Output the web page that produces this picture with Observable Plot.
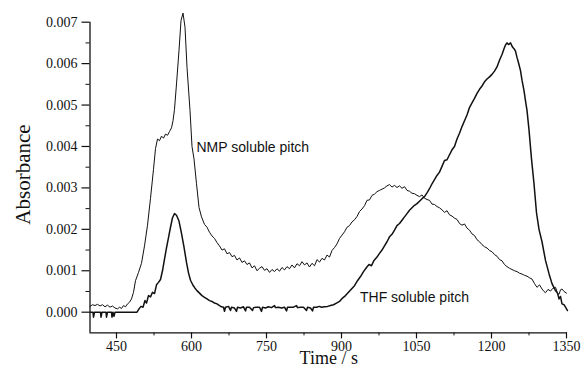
<!DOCTYPE html>
<html>
<head>
<meta charset="utf-8">
<script src="https://cdn.jsdelivr.net/npm/d3@7"></script>
<script src="https://cdn.jsdelivr.net/npm/@observablehq/plot@0.6"></script>
<style>
  html, body { margin: 0; padding: 0; background: #fff; }
</style>
</head>
<body>
<div id="chart"></div>
<script>
// Elution traces: [time (s), absorbance]
const nmpSoluble = [
  [397,.00014],[402,.00018],[407,.00016],[412,.00019],[417,.00015],[422,.00018],[427,.00013],[432,.00017],[437,.00012],[442,.00015],
  [447,.00010],[452,.00008],[456,.00012],[460,.00009],[464,.00016],[468,.00013],[472,.00020],[476,.00024],[480,.00032],[484,.00048],
  [488,.00076],[494,.00096],[500,.00118],[506,.00160],[512,.00210],[518,.00275],[524,.00345],[528,.00395],[532,.00418],[536,.00414],
  [540,.00425],[544,.00420],[548,.00430],[552,.00427],[556,.00436],[560,.00445],[563,.00462],[566,.00490],[570,.00551],[575,.00632],
  [579,.00704],[583,.00722],[587,.00688],[591,.00591],[597,.00487],[601,.00400],[605,.00370],[610,.00310],[615,.00253],[620,.00230],
  [626,.00212],[631,.00205],[636,.00193],[641,.00184],[646,.00178],[651,.00168],[656,.00160],[661,.00150],[666,.00153],[671,.00141],
  [676,.00144],[681,.00134],[686,.00137],[691,.00126],[696,.00131],[701,.00120],[706,.00124],[711,.00115],[716,.00119],[721,.00107],
  [726,.00112],[731,.00100],[736,.00106],[741,.00110],[746,.00101],[751,.00105],[756,.00096],[761,.00103],[766,.00098],[771,.00105],
  [776,.00099],[781,.00108],[786,.00102],[791,.00110],[796,.00105],[801,.00114],[806,.00107],[811,.00117],[816,.00112],[821,.00122],
  [826,.00114],[831,.00119],[836,.00109],[841,.00118],[846,.00112],[851,.00127],[856,.00121],[861,.00130],[866,.00126],[871,.00138],
  [876,.00133],[881,.00149],[886,.00156],[891,.00165],[896,.00178],[901,.00186],[906,.00194],[911,.00205],[916,.00209],[921,.00218],
  [926,.00223],[931,.00231],[936,.00243],[941,.00249],[946,.00257],[951,.00270],[956,.00271],[961,.00282],[966,.00285],[971,.00291],
  [976,.00294],[981,.00297],[986,.00300],[991,.00305],[996,.00308],[1001,.00302],[1006,.00306],[1011,.00301],[1016,.00305],[1021,.00299],
  [1026,.00303],[1031,.00294],[1036,.00292],[1041,.00287],[1046,.00286],[1051,.00282],[1056,.00279],[1061,.00283],[1066,.00275],[1071,.00272],
  [1076,.00270],[1081,.00261],[1086,.00260],[1091,.00255],[1096,.00252],[1101,.00247],[1106,.00241],[1111,.00245],[1116,.00235],[1121,.00232],
  [1126,.00227],[1131,.00224],[1136,.00214],[1141,.00210],[1146,.00213],[1151,.00203],[1156,.00198],[1161,.00189],[1166,.00185],[1171,.00175],
  [1176,.00170],[1181,.00163],[1186,.00158],[1191,.00155],[1196,.00149],[1201,.00146],[1206,.00139],[1211,.00135],[1216,.00127],[1221,.00124],
  [1226,.00115],[1231,.00110],[1236,.00106],[1241,.00103],[1246,.00100],[1251,.00098],[1256,.00094],[1261,.00092],[1266,.00089],[1271,.00087],
  [1276,.00083],[1281,.00080],[1286,.00069],[1291,.00060],[1296,.00066],[1301,.00056],[1305,.00050],[1308,.00047],[1313,.00055],[1318,.00051],
  [1323,.00058],[1328,.00060],[1332,.00046],[1335,.00043],[1338,.00054],[1341,.00056],[1345,.00050],[1350,.00046]
];

const thfSoluble = [
  [397,0],[403,0],[404,-.00012],[406,0],[418,0],[419,-.00012],[421,0],[429,0],[430,-.00012],[432,0],
  [440,0],[441,-.00012],[443,0],[445,-.0001],[447,0],[491,0],[495,.00008],[499,.00014],[503,.00012],[507,.00028],
  [510,.00022],[514,.00040],[518,.00037],[522,.00048],[526,.00045],[530,.00066],[534,.00072],[538,.00079],[542,.00100],[546,.00128],
  [550,.00155],[554,.00180],[558,.00205],[562,.00228],[566,.00238],[570,.00234],[575,.00220],[580,.00190],[585,.00157],[590,.00120],
  [594,.00095],[598,.00077],[603,.00065],[607,.00058],[611,.00052],[616,.00046],[621,.00040],[626,.00036],[631,.00032],[636,.00028],
  [641,.00026],[646,.00022],[651,.00020],[656,.00016],[660,.00013],[664,.00012],[666,.00002],[668,.00012],[674,.00014],[678,.00004],
  [680,.00012],[686,.00010],[690,.00002],[692,.00012],[698,.00010],[704,.00013],[708,.00003],[710,.00012],[716,.00012],[722,.00004],
  [724,.00011],[730,.00012],[736,.00012],[740,.00002],[742,.00012],[748,.00010],[754,.00013],[760,.00011],[766,.00016],[768,.00011],
  [774,.00012],[780,.00010],[786,.00012],[790,.00003],[792,.00012],[798,.00012],[804,.00012],[810,.00016],[812,.00011],[818,.00012],
  [824,.00012],[830,.00004],[832,.00012],[838,.00010],[842,.00003],[844,.00012],[850,.00012],[856,.00014],[860,.00012],[866,.00013],
  [872,.00014],[878,.00016],[884,.00018],[890,.00022],[896,.00026],[902,.00034],[908,.00040],[914,.00048],[920,.00056],[926,.00064],
  [932,.00076],[938,.00086],[944,.00098],[950,.00108],[955,.00115],[960,.00112],[965,.00125],[971,.00133],[976,.00142],[981,.00150],
  [986,.00160],[991,.00170],[996,.00182],[1001,.00188],[1006,.00198],[1011,.00209],[1016,.00214],[1021,.00222],[1026,.00230],[1031,.00238],
  [1036,.00246],[1041,.00252],[1046,.00258],[1051,.00262],[1056,.00268],[1061,.00274],[1066,.00279],[1071,.00288],[1076,.00298],[1081,.00310],
  [1086,.00320],[1091,.00330],[1096,.00338],[1101,.00352],[1106,.00366],[1111,.00368],[1116,.00380],[1121,.00392],[1126,.00400],[1131,.00418],
  [1136,.00432],[1141,.00448],[1146,.00462],[1151,.00476],[1156,.00494],[1161,.00505],[1166,.00516],[1171,.00528],[1176,.00538],[1181,.00546],
  [1186,.00556],[1191,.00563],[1196,.00568],[1201,.00574],[1206,.00582],[1211,.00592],[1216,.00608],[1221,.00622],[1225,.00636],[1228,.00645],
  [1231,.00650],[1234,.00646],[1238,.00650],[1242,.00640],[1245,.00636],[1248,.00630],[1251,.00615],[1254,.00602],[1258,.00583],[1261,.00560],
  [1265,.00535],[1268,.00510],[1271,.00487],[1275,.00440],[1280,.00370],[1285,.00310],[1290,.00240],[1295,.00200],[1301,.00170],[1308,.00125],
  [1315,.00093],[1321,.00069],[1328,.00052],[1332,.00046],[1335,.00032],[1338,.00038],[1341,.00020],[1345,.00018],[1348,.00012],[1352,.00004]
];

// Axis ticks
const timeTicks = [450, 600, 750, 900, 1050, 1200, 1350];
const timeMinorTicks = [525, 675, 825, 975, 1125, 1275];
const absTicks = [0, 0.001, 0.002, 0.003, 0.004, 0.005, 0.006, 0.007];
const absMinorTicks = [0.0005, 0.0015, 0.0025, 0.0035, 0.0045, 0.0055, 0.0065];

const toRows = (pairs) => pairs.map(([t, a]) => ({t, a}));
const serif = "Liberation Serif";
const sans = "Liberation Sans";
const ink = "#111";
const absFormat = d3.format(".3f");

const chart = Plot.plot({
  width: 582,
  height: 368,
  marginLeft: 89.5,
  marginRight: 15,
  marginTop: 21.7,
  marginBottom: 35.6,
  style: {fontFamily: serif, fontSize: "14px", background: "#fff", color: ink},
  x: {domain: [397, 1352]},
  y: {domain: [-0.0005, 0.007]},
  marks: [
    // axis lines
    Plot.ruleX([397], {stroke: ink, strokeWidth: 1.3}),
    Plot.ruleY([-0.0005], {stroke: ink, strokeWidth: 1.3}),
    // tick marks (labels are drawn as text marks below)
    Plot.axisY(absTicks, {tickSize: 8, tickFormat: () => "", label: null, strokeWidth: 1.2}),
    Plot.axisY(absMinorTicks, {tickSize: 4, tickFormat: () => "", label: null, strokeWidth: 1}),
    Plot.axisX(timeTicks, {tickSize: 6, tickFormat: () => "", label: null, strokeWidth: 1.2}),
    Plot.axisX(timeMinorTicks, {tickSize: 3, tickFormat: () => "", label: null, strokeWidth: 1}),
    // tick labels
    Plot.text(absTicks, {y: (d) => d, text: absFormat, frameAnchor: "left", textAnchor: "end", dx: -12.5,
      fontFamily: serif, fontSize: 14, fill: ink}),
    Plot.text(timeTicks, {x: (d) => d, text: (d) => String(d), frameAnchor: "bottom", lineAnchor: "top", dy: 8.5,
      fontFamily: serif, fontSize: 14, fill: ink}),
    // axis titles
    Plot.text(["Time / s"], {frameAnchor: "bottom", lineAnchor: "bottom", dy: 31, fontFamily: serif, fontSize: 18, fill: ink}),
    Plot.text(["Absorbance"], {frameAnchor: "left", textAnchor: "middle", rotate: -90, dx: -66.5, dy: -3,
      fontFamily: serif, fontSize: 21, letterSpacing: "1.6px", fill: ink}),
    // traces
    Plot.line(toRows(nmpSoluble), {x: "t", y: "a", stroke: ink, strokeWidth: 1}),
    Plot.line(toRows(thfSoluble), {x: "t", y: "a", stroke: ink, strokeWidth: 1.5}),
    // trace labels
    Plot.text(["NMP soluble pitch"], {x: 610, y: 0.00397, textAnchor: "start", fontFamily: sans, fontSize: 14, fill: ink}),
    Plot.text(["THF soluble pitch"], {x: 937, y: 0.00035, textAnchor: "start", fontFamily: sans, fontSize: 14, fill: ink})
  ]
});

document.getElementById("chart").appendChild(chart);
</script>
</body>
</html>
